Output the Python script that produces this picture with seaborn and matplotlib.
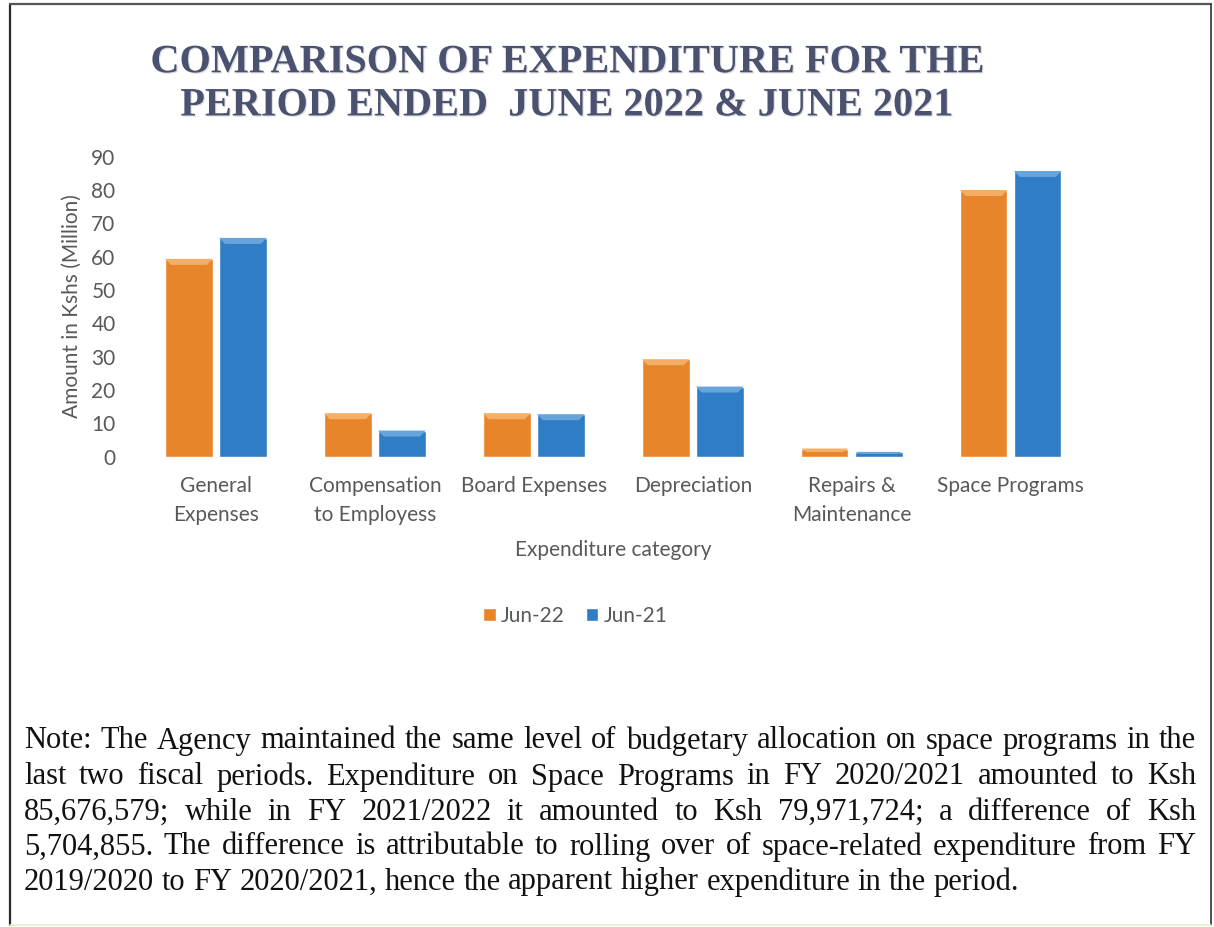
# Comparison of expenditure, June 2022 vs June 2021

import numpy as np
import pandas as pd
import matplotlib
matplotlib.use("Agg")
import matplotlib.pyplot as plt
import matplotlib.patheffects as pe
from matplotlib.patches import Polygon
from matplotlib.lines import Line2D
import seaborn as sns

# data (Ksh million)
categories = ["General\nExpenses", "Compensation\nto Employess", "Board Expenses",
              "Depreciation", "Repairs &\nMaintenance", "Space Programs"]
jun22 = [59.3, 13.0, 13.0, 29.2, 2.4, 79.97]
jun21 = [65.6, 7.8, 12.7, 21.0, 1.4, 85.68]
periods = ["Jun-22", "Jun-21"]
colors = ["#E8842A", "#2F7DC4"]
bevel = ["#F4AE66", "#67A4DC"]
yticks = list(range(0, 100, 10))

title = "COMPARISON OF EXPENDITURE FOR THE\nPERIOD ENDED  JUNE 2022 & JUNE 2021"
note_lines = [
    "Note: The Agency maintained the same level of budgetary allocation on space programs in the",
    "last two fiscal periods. Expenditure on Space Programs in FY 2020/2021 amounted to Ksh",
    "85,676,579; while in FY 2021/2022 it amounted to Ksh 79,971,724; a difference of Ksh",
    "5,704,855. The difference is attributable to rolling over of space-related expenditure from FY",
    "2019/2020 to FY 2020/2021, hence the apparent higher expenditure in the period.",
]

df = pd.DataFrame({
    "category": categories * 2,
    "amount": jun22 + jun21,
    "period": [periods[0]] * len(categories) + [periods[1]] * len(categories),
})

sns.set_theme(style="white")
plt.rcParams["font.family"] = ["Lato", "DejaVu Sans"]
grey = "#595959"
fs = 15

fig = plt.figure(figsize=(12.14, 9.27), dpi=100)
fig.patch.set_facecolor("white")
ax = fig.add_axes([0.1124, 0.5075, 0.7856, 0.3236])

sns.barplot(data=df, x="category", y="amount", hue="period", palette=colors,
            width=0.68, gap=0.12, saturation=1, ax=ax)

# light bevel on top of each bar
for i, bar in enumerate(ax.patches[:2 * len(categories)]):
    x, w, h = bar.get_x(), bar.get_width(), bar.get_height()
    dy = min(1.8, h * 0.45)
    dx = w * 0.12
    c = bevel[i // len(categories)]
    ax.add_patch(Polygon([(x, h), (x + w, h), (x + w - dx, h - dy), (x + dx, h - dy)],
                         closed=True, facecolor=c, edgecolor="none", zorder=3))

ax.set_ylim(0, 90)
ax.set_yticks(yticks)
ax.set_xlim(-0.5, len(categories) - 0.5)
for s in ax.spines.values():
    s.set_visible(False)
ax.tick_params(axis="y", length=0, pad=15, labelsize=fs, labelcolor=grey)
ax.tick_params(axis="x", length=0, pad=14, labelsize=fs, labelcolor=grey)
for lab in ax.get_xticklabels():
    lab.set_linespacing(1.55)

ax.set_ylabel("Amount in Kshs (Million)", fontsize=fs, color=grey)
ax.yaxis.set_label_coords(-0.057, 0.5)
ax.set_xlabel("Expenditure category", fontsize=fs, color=grey)
ax.xaxis.set_label_coords(0.5, -0.277)

sns.move_legend(ax, "center", bbox_to_anchor=(0.474, 0.336),
                bbox_transform=fig.transFigure, ncol=2, frameon=False, title=None,
                handlelength=0.6, handleheight=0.6, handletextpad=0.25,
                columnspacing=1.0, fontsize=fs)
for t in ax.get_legend().get_texts():
    t.set_color(grey)

# title
fig.text(0.467, 0.909, title, ha="center", va="center", linespacing=1.22,
         fontsize=29, family="Liberation Serif", weight="bold", color="#4B5270",
         path_effects=[pe.SimplePatchShadow(offset=(0.8, -0.8), shadow_rgbFace="#C4C4CC", alpha=0.6),
                       pe.Normal()])

# note, justified lines
renderer = fig.canvas.get_renderer()
x0, x1 = 24 / 1214, 1196 / 1214
note_kw = dict(fontsize=22, family="Liberation Serif", color="#111111", va="center")
note_y = [741, 777, 812, 847, 882]


def text_width(s):
    t = fig.text(0, 0, s, **note_kw)
    w = t.get_window_extent(renderer).width / fig.bbox.width
    t.remove()
    return w


space_w = text_width("a b") - text_width("ab")
for k, line in enumerate(note_lines):
    y = 1 - note_y[k] / 927
    words = line.split(" ")
    items = [fig.text(0, y, wd, **note_kw) for wd in words]
    widths = [t.get_window_extent(renderer).width / fig.bbox.width for t in items]
    if k < len(note_lines) - 1:
        gap = (x1 - x0 - sum(widths)) / (len(words) - 1)
    else:
        gap = space_w
    xx = x0
    for t, wd in zip(items, widths):
        t.set_x(xx)
        xx += wd + gap

# page frame
fig.add_artist(Line2D([10 / 1214, 10 / 1214], [1 - 4 / 927, 1 - 925 / 927], color="#2a2a2a", lw=1.6))
fig.add_artist(Line2D([10 / 1214, 1211 / 1214], [1 - 4 / 927, 1 - 4 / 927], color="#555555", lw=1.6))
fig.add_artist(Line2D([1211 / 1214, 1211 / 1214], [1 - 4 / 927, 1 - 925 / 927], color="#333333", lw=1.2))
fig.add_artist(Line2D([10 / 1214, 1211 / 1214], [1 - 925 / 927, 1 - 925 / 927], color="#EDEBC8", lw=1.2))

fig.savefig("out.png", dpi=100)
